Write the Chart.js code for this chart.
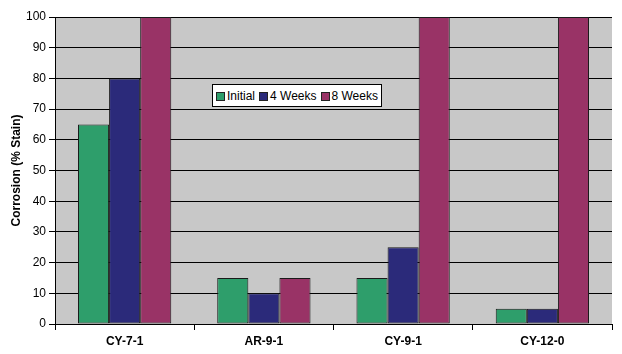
<!DOCTYPE html>
<html>
<head>
<meta charset="utf-8">
<script src="https://cdn.jsdelivr.net/npm/chart.js@4/dist/chart.umd.min.js"></script>
<style>
    body { margin: 0; background: #fff; }
    #wrap { position: relative; width: 622px; height: 354px; }
    #legend {
        position: absolute; left: 212px; top: 84px; width: 168px; height: 21px;
        background: #fff; border: 1px solid #000;
        font: 12px "Liberation Sans", Arial, sans-serif; color: #000;
        display: flex; align-items: center; justify-content: center; gap: 4px;
    }
    #legend span.box { display: inline-block; width: 7px; height: 7px; border: 1px solid #222; margin-right: 2px; vertical-align: middle; }
</style>
</head>
<body>
<div id="wrap">
    <canvas id="chart" width="622" height="354"></canvas>
    <div id="legend"></div>
</div>
<script>
const categories = ['CY-7-1', 'AR-9-1', 'CY-9-1', 'CY-12-0'];
const seriesNames = ['Initial', '4 Weeks', '8 Weeks'];
const initialValues = [65, 15, 15, 5];
const week4Values = [80, 10, 25, 5];
const week8Values = [100, 15, 100, 100];
const seriesColors = ['#2e9e6b', '#2b2a7a', '#993366'];

const allValues = [initialValues, week4Values, week8Values];

// Gray plot background
const plotBackground = {
    id: 'plotBackground',
    beforeDraw(chart) {
        const { ctx, chartArea } = chart;
        ctx.save();
        ctx.fillStyle = '#c8c8c8';
        ctx.fillRect(chartArea.left, chartArea.top, chartArea.right - chartArea.left, chartArea.bottom - chartArea.top);
        ctx.restore();
    }
};

const font = { family: '"Liberation Sans", Arial, sans-serif', size: 12 };

new Chart(document.getElementById('chart'), {
    type: 'bar',
    data: {
        labels: categories,
        datasets: seriesNames.map((name, i) => ({
            label: name,
            data: allValues[i],
            backgroundColor: seriesColors[i],
            borderColor: '#1a1a1a',
            borderWidth: 1,
            borderSkipped: false,
            categoryPercentage: 0.67,
            barPercentage: 1.0
        }))
    },
    options: {
        responsive: false,
        animation: false,
        layout: { padding: { top: 17, right: 10, left: 0, bottom: 0 } },
        plugins: {
            legend: { display: false },
            tooltip: { enabled: false }
        },
        scales: {
            x: {
                grid: { display: true, drawOnChartArea: false, color: '#000', tickLength: 6, offset: true },
                border: { color: '#000', width: 1 },
                ticks: { color: '#000', font: { ...font, weight: 'bold' }, padding: 4, maxRotation: 0 },
                afterFit(axis) { axis.height = 30; }
            },
            y: {
                min: 0,
                max: 100,
                ticks: { stepSize: 10, color: '#000', font: font, padding: 3 },
                grid: { color: '#000', tickLength: 6 },
                border: { color: '#000', width: 1 },
                title: {
                    display: true,
                    text: 'Corrosion (% Stain)',
                    color: '#000',
                    font: { ...font, weight: 'bold' },
                    padding: { top: 9, bottom: 0 }
                },
                afterFit(axis) { axis.width = 55; }
            }
        }
    },
    plugins: [plotBackground]
});

// Legend box inside plot
const legend = document.getElementById('legend');
seriesNames.forEach((name, i) => {
    const item = document.createElement('span');
    item.innerHTML = '<span class="box" style="background:' + seriesColors[i] + '"></span>' + name;
    legend.appendChild(item);
});
</script>
</body>
</html>
